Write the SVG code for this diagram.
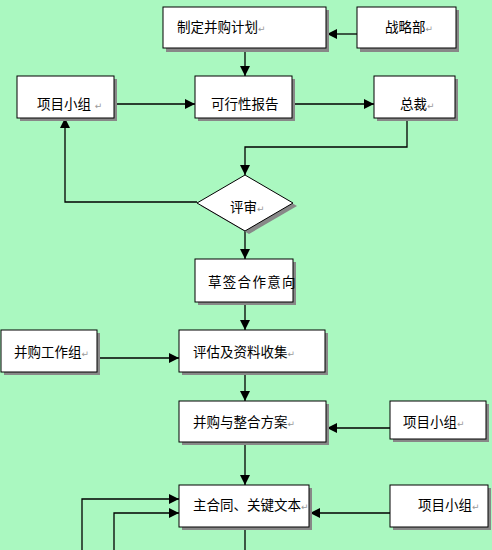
<svg xmlns="http://www.w3.org/2000/svg" width="492" height="550" viewBox="0 0 492 550">
<style>
.bg{fill:#AAF8C0}
.sh{fill:#888888}
.box{fill:#ffffff;stroke:#000000;stroke-width:1}
.t{font-family:"Liberation Sans","Noto Sans CJK SC",sans-serif;font-size:13.5px;fill:#000000}
.pm{font-family:"DejaVu Sans",sans-serif;font-size:9px;fill:#999999}
.ln{fill:none;stroke:#000000;stroke-width:1.3}
</style>
<defs>
<marker id="ah" viewBox="0 0 10 10" refX="10" refY="5" markerWidth="10" markerHeight="10" markerUnits="userSpaceOnUse" orient="auto">
<path d="M0,0 L10,5 L0,10 Z" fill="#000000"/>
</marker>
</defs>
<rect class="bg" x="0" y="0" width="492" height="550"/>

<g id="connectors">
<line class="ln" x1="357" y1="34" x2="327" y2="34" marker-end="url(#ah)"/>
<line class="ln" x1="245" y1="48" x2="245" y2="76" marker-end="url(#ah)"/>
<line class="ln" x1="114" y1="104" x2="195" y2="104" marker-end="url(#ah)"/>
<line class="ln" x1="292" y1="104" x2="374" y2="104" marker-end="url(#ah)"/>
<polyline class="ln" points="407,118 407,147 245,147 245,175" marker-end="url(#ah)"/>
<polyline class="ln" points="197,202 65,202 65,118" marker-end="url(#ah)"/>
<line class="ln" x1="245" y1="231" x2="245" y2="259" marker-end="url(#ah)"/>
<line class="ln" x1="245" y1="302" x2="245" y2="330" marker-end="url(#ah)"/>
<line class="ln" x1="97" y1="358" x2="179" y2="358" marker-end="url(#ah)"/>
<line class="ln" x1="245" y1="372" x2="245" y2="401" marker-end="url(#ah)"/>
<line class="ln" x1="390" y1="428" x2="327" y2="428" marker-end="url(#ah)"/>
<line class="ln" x1="245" y1="442" x2="245" y2="485" marker-end="url(#ah)"/>
<line class="ln" x1="390" y1="513" x2="310" y2="513" marker-end="url(#ah)"/>
<polyline class="ln" points="82,550 82,499 179,499" marker-end="url(#ah)"/>
<polyline class="ln" points="114,550 114,513 179,513" marker-end="url(#ah)"/>
<line class="ln" x1="245" y1="527" x2="245" y2="550"/>
</g>

<g id="n-plan">
<rect class="sh" x="166" y="10" width="163" height="42"/>
<rect class="box" x="163" y="7" width="163" height="41"/>
<text class="t" x="177" y="32">制定并购计划<tspan class="pm">↵</tspan></text>
</g>
<g id="n-strategy">
<rect class="sh" x="360" y="10" width="99" height="42"/>
<rect class="box" x="357" y="7" width="99" height="41"/>
<text class="t" x="385" y="32">战略部<tspan class="pm">↵</tspan></text>
</g>
<g id="n-team1">
<rect class="sh" x="20" y="79" width="97" height="42"/>
<rect class="box" x="17" y="76" width="97" height="42"/>
<text class="t" x="37" y="109">项目小组 <tspan class="pm">↵</tspan></text>
</g>
<g id="n-feasibility">
<rect class="sh" x="198" y="79" width="97" height="42"/>
<rect class="box" x="195" y="76" width="97" height="42"/>
<text class="t" x="211" y="109">可行性报告</text>
</g>
<g id="n-ceo">
<rect class="sh" x="377" y="79" width="81" height="42"/>
<rect class="box" x="374" y="76" width="81" height="42"/>
<text class="t" x="400" y="109">总裁<tspan class="pm">↵</tspan></text>
</g>
<g id="n-review">
<polygon class="sh" points="249,178 297,206 249,234 201,206"/>
<polygon class="box" points="245,175 293,203 245,231 197,203"/>
<text class="t" x="230" y="212">评审<tspan class="pm">↵</tspan></text>
</g>
<g id="n-draft">
<rect class="sh" x="198" y="262" width="98" height="43"/>
<rect class="box" x="195" y="259" width="98" height="43"/>
<text class="t" x="208" y="287" letter-spacing="1.3">草签合作意向</text>
</g>
<g id="n-mawork">
<rect class="sh" x="4" y="333" width="96" height="42"/>
<rect class="box" x="1" y="330" width="96" height="42"/>
<text class="t" x="14" y="357">并购工作组<tspan class="pm">↵</tspan></text>
</g>
<g id="n-assess">
<rect class="sh" x="182" y="333" width="146" height="42"/>
<rect class="box" x="179" y="330" width="146" height="42"/>
<text class="t" x="193" y="357">评估及资料收集<tspan class="pm">↵</tspan></text>
</g>
<g id="n-plan2">
<rect class="sh" x="182" y="404" width="147" height="41"/>
<rect class="box" x="179" y="401" width="147" height="41"/>
<text class="t" x="193" y="427">并购与整合方案<tspan class="pm">↵</tspan></text>
</g>
<g id="n-team2">
<rect class="sh" x="393" y="404" width="96" height="38"/>
<rect class="box" x="390" y="401" width="96" height="38"/>
<text class="t" x="403" y="427">项目小组<tspan class="pm">↵</tspan></text>
</g>
<g id="n-contract">
<rect class="sh" x="182" y="488" width="130" height="42"/>
<rect class="box" x="179" y="485" width="130" height="42"/>
<text class="t" x="193" y="510">主合同、关键文本<tspan class="pm">↵</tspan></text>
</g>
<g id="n-team3">
<rect class="sh" x="393" y="488" width="98" height="42"/>
<rect class="box" x="390" y="485" width="98" height="42"/>
<text class="t" x="418" y="510">项目小组<tspan class="pm">↵</tspan></text>
</g>
</svg>
